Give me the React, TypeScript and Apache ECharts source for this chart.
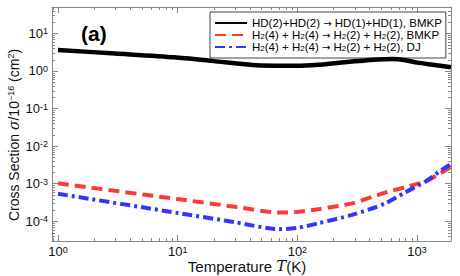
import React, { useEffect, useRef } from "react";
import * as echarts from "echarts";

const FONT = "Liberation Sans";

// Axis ranges
const X_MIN = 0.891;
const X_MAX = 1920;
const Y_MIN = 3e-5;
const Y_MAX = 50;

// Series names
const NAME_HD = "HD(2)+HD(2) → HD(1)+HD(1), BMKP";
const NAME_H2_BMKP = "H2(4) + H2(4) → H2(2) + H2(2), BMKP";
const NAME_H2_DJ = "H2(4) + H2(4) → H2(2) + H2(2), DJ";

// HD(2)+HD(2) -> HD(1)+HD(1), BMKP
const hdTemps = [1, 3, 9.4, 20, 42, 70, 100, 150, 204, 300, 470, 620, 800, 1000, 1400, 1920];
const hdValues = [3.6, 2.9, 2.3, 1.82, 1.44, 1.37, 1.36, 1.45, 1.6, 1.8, 2.02, 2.06, 1.92, 1.66, 1.44, 1.25];

// H2(4)+H2(4) -> H2(2)+H2(2), BMKP
const redTemps = [1, 10, 30, 70, 100, 150, 286, 542, 797, 1172, 1500, 1920];
const redValues = [1.03e-3, 3.9e-4, 2.44e-4, 1.71e-4, 1.78e-4, 2.1e-4, 3.0e-4, 5.8e-4, 8.1e-4, 1.14e-3, 1.75e-3, 2.8e-3];

// H2(4)+H2(4) -> H2(2)+H2(2), DJ
const blueTemps = [1, 10, 30, 70, 100, 150, 286, 542, 797, 1172, 1500, 1920];
const blueValues = [5.4e-4, 1.67e-4, 9.5e-5, 6.2e-5, 6.7e-5, 8.9e-5, 1.48e-4, 3.0e-4, 5.9e-4, 1.14e-3, 2.0e-3, 3.4e-3];

// Minor tick multipliers per decade
const minorMultipliers = [2, 3, 4, 5, 6, 7, 8, 9];
const xDecades = [-1, 0, 1, 2, 3];
const yDecades = [-5, -4, -3, -2, -1, 0, 1];

const zip = (xs: number[], ys: number[]) => xs.map((x, i) => [x, ys[i]]);

const powLabel = (v: number) => {
  const e = Math.log10(v);
  const r = Math.round(e);
  if (Math.abs(e - r) > 1e-6) return "";
  return `{b|10}{e|${r}}`;
};

const labelRich = {
  b: { fontSize: 13, fontFamily: FONT, color: "#111", lineHeight: 13 },
  e: { fontSize: 9, fontFamily: FONT, color: "#111", lineHeight: 8, verticalAlign: "top" },
};

const richPart = (p: string) =>
  p
    .split("→")
    .map((q) => (q ? `{t|${q}}` : ""))
    .join("{a|→}");

const legendFormatter = (name: string) => {
  const parts = name.split("H2");
  return parts.map((p) => (p ? richPart(p) : "")).join("{t|H}{s|2}");
};

const AXIS_COLOR = "#888";

export default function App() {
  const ref = useRef<HTMLDivElement>(null);

  useEffect(() => {
    if (!ref.current) return;
    const chart = echarts.init(ref.current, undefined, { renderer: "svg" });

    const minorData: number[][] = [];
    xDecades.forEach((d) =>
      minorMultipliers.forEach((k) => {
        const v = k * Math.pow(10, d);
        if (v > X_MIN * 1.01 && v < X_MAX * 0.99) minorData.push([v, Y_MIN, 0]);
      })
    );
    yDecades.forEach((d) =>
      minorMultipliers.forEach((k) => {
        const v = k * Math.pow(10, d);
        if (v > Y_MIN * 1.01 && v < Y_MAX * 0.99) minorData.push([X_MIN, v, 1]);
      })
    );

    const baseX = {
      type: "log" as const,
      logBase: 10,
      min: X_MIN,
      max: X_MAX,
      axisLine: { show: true, lineStyle: { color: AXIS_COLOR, width: 1 } },
      axisTick: { show: true, inside: true, length: 6, lineStyle: { color: AXIS_COLOR } },
      splitLine: { show: false },
      minorTick: { show: false },
    };
    const baseY = {
      type: "log" as const,
      logBase: 10,
      min: Y_MIN,
      max: Y_MAX,
      axisLine: { show: true, lineStyle: { color: AXIS_COLOR, width: 1 } },
      axisTick: { show: true, inside: true, length: 6, lineStyle: { color: AXIS_COLOR } },
      splitLine: { show: false },
      minorTick: { show: false },
    };

    const option: any = {
      animation: false,
      backgroundColor: "#fff",
      grid: { left: 52, right: 9, top: 7, bottom: 35, containLabel: false, outerBoundsMode: "none" },
      xAxis: [
        {
          ...baseX,
          position: "bottom",
          axisLabel: { show: true, margin: 4, formatter: powLabel, rich: labelRich, showMinLabel: true, showMaxLabel: true },
        },
        { ...baseX, position: "top", axisLabel: { show: false } },
      ],
      yAxis: [
        {
          ...baseY,
          position: "left",
          axisLabel: { show: true, margin: 4, formatter: powLabel, rich: labelRich },
        },
        { ...baseY, position: "right", axisLabel: { show: false } },
      ],
      legend: {
        orient: "vertical",
        left: 210,
        top: 12,
        itemWidth: 32,
        itemHeight: 6,
        itemGap: 0,
        padding: [5, 4, 5, 4],
        backgroundColor: "#fff",
        borderColor: "#444",
        borderWidth: 1,
        borderRadius: 0,
        selectedMode: false,
        itemStyle: { opacity: 0 },
        data: [NAME_HD, NAME_H2_BMKP, NAME_H2_DJ],
        formatter: legendFormatter,
        textStyle: {
          fontFamily: FONT,
          fontSize: 11.5,
          color: "#000",
          rich: {
            t: { fontFamily: FONT, fontSize: 11.5, color: "#000", lineHeight: 11 },
            a: { fontFamily: "DejaVu Sans", fontSize: 10, color: "#000", lineHeight: 11 },
            s: { fontFamily: FONT, fontSize: 8, color: "#000", lineHeight: 8, verticalAlign: "bottom" },
          },
        },
      },
      graphic: [
        {
          type: "text",
          left: 81,
          top: 23,
          style: { text: "(a)", fontFamily: FONT, fontSize: 21, fontWeight: "bold", fill: "#000" },
        },
        {
          type: "text",
          x: 14,
          y: 135,
          rotation: Math.PI / 2,
          style: {
            text: "{t|Cross Section }{i|σ}{t|/10}{u|−16}{t| (cm}{u|2}{t|)}",
            align: "center",
            verticalAlign: "middle",
            rich: {
              t: { fontFamily: FONT, fontSize: 14, fill: "#111", lineHeight: 16 },
              i: { fontFamily: "DejaVu Serif", fontStyle: "italic", fontSize: 14, fill: "#111", lineHeight: 16 },
              u: { fontFamily: FONT, fontSize: 9, fill: "#111", lineHeight: 9, verticalAlign: "top" },
            },
          },
        },
        {
          type: "text",
          x: 247,
          y: 266,
          style: {
            text: "{t|Temperature }{i|T}{t|(K)}",
            align: "center",
            verticalAlign: "middle",
            rich: {
              t: { fontFamily: FONT, fontSize: 15, fill: "#111", lineHeight: 13 },
              i: { fontFamily: "DejaVu Serif", fontStyle: "italic", fontSize: 15, fill: "#111", lineHeight: 13 },
            },
          },
        },
      ],
      series: [
        {
          type: "custom",
          silent: true,
          clip: false,
          z: 1,
          xAxisIndex: 0,
          yAxisIndex: 0,
          data: minorData,
          renderItem: (params: any, api: any) => {
            const a = api.value(0);
            const b = api.value(1);
            const kind = api.value(2);
            const style = { stroke: AXIS_COLOR, lineWidth: 1 };
            if (kind === 0) {
              const p = api.coord([a, Y_MIN]);
              const q = api.coord([a, Y_MAX]);
              const x = Math.round(p[0]) + 0.5;
              return {
                type: "group",
                children: [
                  { type: "line", shape: { x1: x, y1: p[1], x2: x, y2: p[1] - 3 }, style },
                  { type: "line", shape: { x1: x, y1: q[1], x2: x, y2: q[1] + 3 }, style },
                ],
              };
            }
            const p = api.coord([X_MIN, b]);
            const q = api.coord([X_MAX, b]);
            const y = Math.round(p[1]) + 0.5;
            return {
              type: "group",
              children: [
                { type: "line", shape: { x1: p[0], y1: y, x2: p[0] + 3, y2: y }, style },
                { type: "line", shape: { x1: q[0], y1: y, x2: q[0] - 3, y2: y }, style },
              ],
            };
          },
        },
        {
          name: NAME_H2_BMKP,
          type: "line",
          data: zip(redTemps, redValues),
          symbol: "none",
          smooth: 0.25,
          z: 3,
          itemStyle: { color: "#ff3838" },
          lineStyle: { color: "#ff3838", width: 4, type: [11, 6] },
        },
        {
          name: NAME_H2_DJ,
          type: "line",
          data: zip(blueTemps, blueValues),
          symbol: "none",
          smooth: 0.25,
          z: 4,
          itemStyle: { color: "#3434ff" },
          lineStyle: { color: "#3434ff", width: 4, type: [10, 4, 3, 4] },
        },
        {
          name: NAME_HD,
          type: "line",
          data: zip(hdTemps, hdValues),
          symbol: "none",
          smooth: 0.25,
          z: 5,
          itemStyle: { color: "#000" },
          lineStyle: { color: "#000", width: 4.5 },
        },
      ],
    };

    chart.setOption(option);
    return () => chart.dispose();
  }, []);

  return (
    <div
      ref={ref}
      style={{ position: "fixed", left: 0, top: 0, width: 460, height: 276, background: "#fff" }}
    />
  );
}
